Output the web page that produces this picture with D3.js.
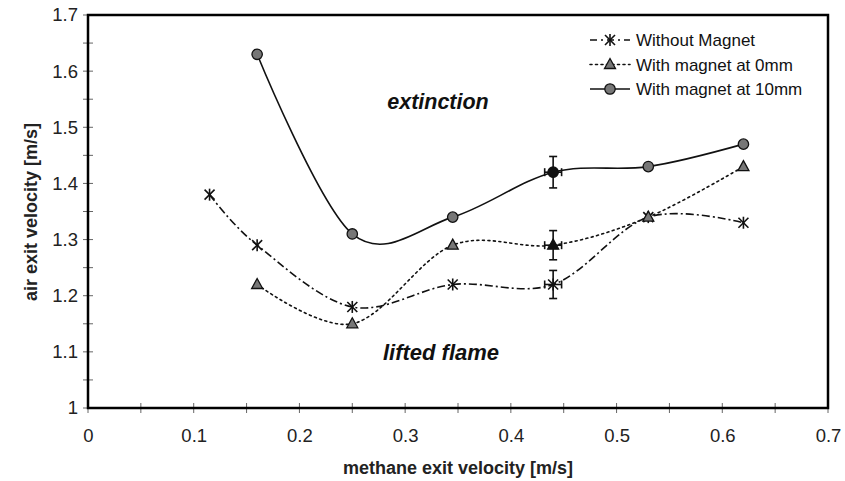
<!DOCTYPE html>
<html><head><meta charset="utf-8">
<script src="https://cdn.jsdelivr.net/npm/d3@7"></script>
<style>body{margin:0;background:#fff}svg{display:block}text{font-family:"Liberation Sans",Arial,sans-serif}</style>
</head><body>
<svg id="c" width="845" height="481"></svg>
<script>
const xTicks = [0,0.1,0.2,0.3,0.4,0.5,0.6,0.7];
const yTicks = [1,1.1,1.2,1.3,1.4,1.5,1.6,1.7];
const seriesNames = ["Without Magnet","With magnet at 0mm","With magnet at 10mm"];
const withoutX = [0.115,0.16,0.25,0.345,0.44,0.53,0.62];
const withoutY = [1.38,1.29,1.18,1.22,1.22,1.34,1.33];
const mag0X = [0.16,0.25,0.345,0.44,0.53,0.62];
const mag0Y = [1.22,1.15,1.29,1.29,1.34,1.43];
const mag10X = [0.16,0.25,0.345,0.44,0.53,0.62];
const mag10Y = [1.63,1.31,1.34,1.42,1.43,1.47];
// error bars at x=0.44: [x, y, dx, dy]
const errWithout = [0.44,1.22,0.008,0.025];
const errMag0 = [0.44,1.29,0.008,0.026];
const errMag10 = [0.44,1.42,0.008,0.028];

const svg = d3.select("#c");
const L=88,R=828,T=15,B=408;
const x = d3.scaleLinear().domain([0,0.7]).range([L,R]);
const y = d3.scaleLinear().domain([1,1.7]).range([B,T]);

// minor/major ticks crossing axes
const minorX = d3.range(0,0.7001,0.05);
const minorY = d3.range(1,1.7001,0.05);
const tk = svg.append("g").attr("stroke","#666").attr("stroke-width",1);
minorX.forEach(v=>tk.append("line").attr("x1",x(v)).attr("x2",x(v)).attr("y1",B-5).attr("y2",B+5));
minorY.forEach(v=>tk.append("line").attr("y1",y(v)).attr("y2",y(v)).attr("x1",L-5).attr("x2",L+5));

// tick labels via axes
const gx = svg.append("g").attr("transform",`translate(0,${B})`)
  .call(d3.axisBottom(x).tickValues(xTicks).tickSize(0).tickPadding(20).tickFormat(d=>d===0?"0":d3.format(".1f")(d)));
const gy = svg.append("g").attr("transform",`translate(${L},0)`)
  .call(d3.axisLeft(y).tickValues(yTicks).tickSize(0).tickPadding(10).tickFormat(d=>d===1?"1":d3.format(".1f")(d)));
[gx,gy].forEach(g=>{g.select(".domain").remove();g.selectAll("text").attr("font-size",18.5).attr("fill","#222");});
gx.selectAll("text").attr("dy","0.75em");

// frame
svg.append("rect").attr("x",L).attr("y",T).attr("width",R-L).attr("height",B-T)
  .attr("fill","none").attr("stroke","#000").attr("stroke-width",2.5);

// axis titles
svg.append("text").attr("x",458).attr("y",474).attr("text-anchor","middle")
  .attr("font-size",18).attr("font-weight","bold").attr("fill","#222").text("methane exit velocity [m/s]");
svg.append("text").attr("transform","translate(37,212) rotate(-90)").attr("text-anchor","middle")
  .attr("font-size",18).attr("font-weight","bold").attr("fill","#222").text("air exit velocity [m/s]");

// region labels
svg.append("text").attr("x",438).attr("y",109).attr("text-anchor","middle").attr("font-size",21.5)
  .attr("font-weight","bold").attr("font-style","italic").attr("fill","#111").text("extinction");
svg.append("text").attr("x",441).attr("y",360).attr("text-anchor","middle").attr("font-size",22)
  .attr("font-weight","bold").attr("font-style","italic").attr("fill","#111").text("lifted flame");

const line = d3.line().x(d=>x(d[0])).y(d=>y(d[1])).curve(d3.curveCardinal.tension(0));
const styles = [
  {dash:"8,3,2,3", xs:withoutX, ys:withoutY, marker:"star", err:errWithout},
  {dash:"2,3.5", xs:mag0X, ys:mag0Y, marker:"tri", err:errMag0},
  {dash:null, xs:mag10X, ys:mag10Y, marker:"circ", err:errMag10}
];

function drawMarker(g, type, cx, cy, dark){
  if(type==="star"){
    const s=5;
    const p = g.append("g").attr("stroke","#111").attr("stroke-width",1.6);
    p.append("line").attr("x1",cx-s).attr("y1",cy-s).attr("x2",cx+s).attr("y2",cy+s);
    p.append("line").attr("x1",cx-s).attr("y1",cy+s).attr("x2",cx+s).attr("y2",cy-s);
    p.append("line").attr("x1",cx).attr("y1",cy-s-1).attr("x2",cx).attr("y2",cy+s+1);
  } else if(type==="tri"){
    g.append("path").attr("d",`M${cx},${cy-6}L${cx+5.5},${cy+4}L${cx-5.5},${cy+4}Z`)
      .attr("fill",dark?"#111":"#777").attr("stroke","#111").attr("stroke-width",1.3);
  } else {
    g.append("circle").attr("cx",cx).attr("cy",cy).attr("r",5.2)
      .attr("fill",dark?"#111":"#777").attr("stroke","#111").attr("stroke-width",1.3);
  }
}

styles.forEach(s=>{
  const pts = s.xs.map((v,i)=>[v,s.ys[i]]);
  svg.append("path").attr("d",line(pts)).attr("fill","none").attr("stroke","#111")
    .attr("stroke-width",1.6).attr("stroke-dasharray",s.dash).attr("stroke-linecap",s.marker==="tri"?"round":"butt");
  // error bars
  const [ex,ey,edx,edy]=s.err;
  const eg = svg.append("g").attr("stroke","#111").attr("stroke-width",1.6);
  eg.append("line").attr("x1",x(ex)).attr("x2",x(ex)).attr("y1",y(ey-edy)).attr("y2",y(ey+edy));
  eg.append("line").attr("x1",x(ex)-4).attr("x2",x(ex)+4).attr("y1",y(ey-edy)).attr("y2",y(ey-edy));
  eg.append("line").attr("x1",x(ex)-4).attr("x2",x(ex)+4).attr("y1",y(ey+edy)).attr("y2",y(ey+edy));
  eg.append("line").attr("x1",x(ex-edx)).attr("x2",x(ex+edx)).attr("y1",y(ey)).attr("y2",y(ey));
  eg.append("line").attr("x1",x(ex-edx)).attr("x2",x(ex-edx)).attr("y1",y(ey)-4).attr("y2",y(ey)+4);
  eg.append("line").attr("x1",x(ex+edx)).attr("x2",x(ex+edx)).attr("y1",y(ey)-4).attr("y2",y(ey)+4);
  const mg = svg.append("g");
  pts.forEach(p=>drawMarker(mg,s.marker,x(p[0]),y(p[1]),p[0]===ex));
});

// legend
const lg = svg.append("g");
styles.forEach((s,i)=>{
  const ly = 40 + i*24.5;
  lg.append("line").attr("x1",590).attr("x2",630).attr("y1",ly).attr("y2",ly).attr("stroke","#111")
    .attr("stroke-width",1.6).attr("stroke-dasharray",s.dash?(i===0?"7,4,2,4":"2,3.5"):null)
    .attr("stroke-linecap",i===1?"round":"butt");
  drawMarker(lg,s.marker,610,ly,false);
  lg.append("text").attr("x",636).attr("y",ly+6).attr("font-size",17).attr("fill","#111").text(seriesNames[i]);
});
</script>
</body></html>
